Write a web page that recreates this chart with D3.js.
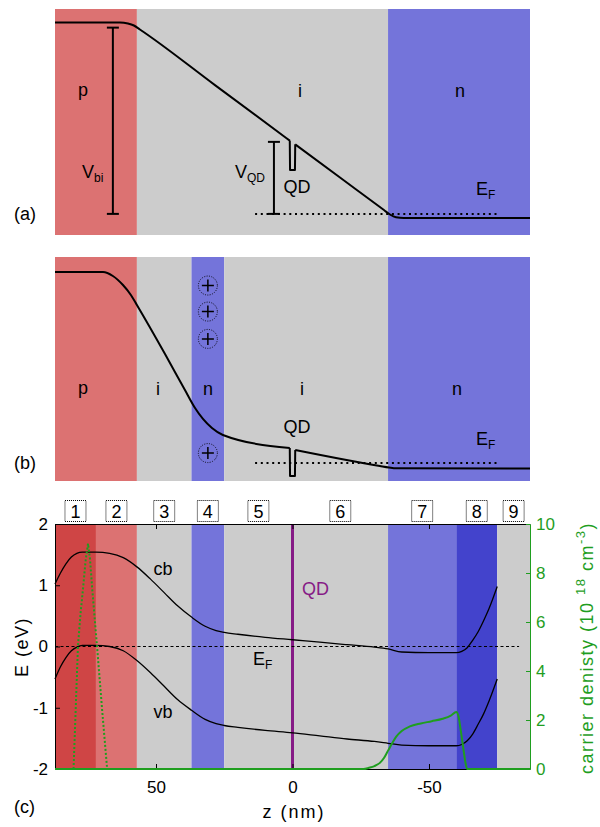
<!DOCTYPE html>
<meta charset="utf-8">
<style>
body { margin: 0; background: #fff; }
svg { display: block; font-family: "Liberation Sans", Arial, sans-serif; }
.band { fill: none; stroke: #000; stroke-width: 2px; stroke-linejoin: round; }
.curve { fill: none; stroke: #000; stroke-width: 1.3px; }
.ef { fill: none; stroke: #000; stroke-width: 2px; stroke-dasharray: 2 3.7; }
.bar { stroke: #000; stroke-width: 2px; }
.dens { fill: none; stroke: #1f9e1f; stroke-width: 2px; }
.dens.holes { stroke-dasharray: 2 2; }
</style>
<body>
<script src="https://cdn.jsdelivr.net/npm/d3@7"></script>
<script>
// layer stacks, z in nm (plotted right to left)
var layersA = ["p", "i", "n"];
var edgesA = [87, 57, -35, -87];
var layersB = ["p", "i", "n", "i", "n"];
var edgesB = [87, 57, 37, 25, -35, -87];
var regionsC = ["1", "2", "3", "4", "5", "6", "7", "8", "9"];
var regionTypeC = ["p+", "p", "i", "n", "i", "i", "n", "n+", "i"];
var edgesC = [87, 72, 57, 37, 25, 0, -35, -60, -75, -87];

// schematic conduction band for (a) and (b): [z, E]
var bandA = [[87, 1.541], [63.2, 1.541], [60.3, 1.533], [58.1, 1.517], [55.9, 1.485], [28.4, 1.037],
  [1.0, 0.59], [0.9, 0.354], [-0.9, 0.354], [-1.0, 0.56], [-17.4, 0.293], [-33.5, 0.031],
  [-35.7, -0.005], [-37.9, -0.027], [-40.8, -0.033], [-87, -0.033]];
var bandB = [[87, 1.539], [69.4, 1.539], [65.8, 1.507], [62.1, 1.434], [59.2, 1.354], [57.0, 1.273],
  [46.7, 0.878], [39.4, 0.588], [35.7, 0.443], [32.8, 0.355], [29.5, 0.282], [25.5, 0.226],
  [1.0, 0.121], [0.9, -0.105], [-0.9, -0.105], [-1.0, 0.105], [-32, -0.024], [-35.3, -0.036],
  [-37.9, -0.043], [-87, -0.044]];
var vbi = 1.5, vqd = 0.58;
var chargeE = [1.43, 1.22, 1.0, 0.08];

// (c) simulated bands
var zC = [87, 85, 83, 81, 79, 77, 72, 67, 62, 57, 52, 47, 42, 37, 32, 28, 25, 20, 10, 0,
  -10, -20, -30, -35, -40, -50, -60, -62, -64, -66, -68, -70, -72, -75];
var cb = [1.02, 1.2, 1.35, 1.46, 1.52, 1.54, 1.54, 1.52, 1.45, 1.3, 1.1, 0.88, 0.66, 0.48, 0.33, 0.26, 0.23, 0.2, 0.15, 0.11,
  0.07, 0.03, -0.01, -0.04, -0.09, -0.1, -0.1, -0.08, -0.02, 0.1, 0.24, 0.42, 0.62, 0.98];
var vb = [-0.53, -0.33, -0.18, -0.07, -0.01, 0.02, 0.02, 0.0, -0.07, -0.23, -0.43, -0.65, -0.87, -1.04, -1.19, -1.26, -1.29, -1.32, -1.37, -1.41,
  -1.46, -1.51, -1.55, -1.58, -1.61, -1.62, -1.62, -1.6, -1.54, -1.43, -1.27, -1.1, -0.89, -0.53];

// carrier densities (1e18 cm^-3)
var zHole = [80.2, 79.4, 78.6, 77.6, 76.7, 75.8, 74.9, 74.2, 73.4, 72.5, 71.6, 69.8, 67.9];
var holes = [0, 2.5, 5.0, 6.4, 7.4, 8.5, 9.2, 8.6, 7.4, 6.2, 5.0, 2.5, 0];
var zElec = [87, -26, -28, -30, -32, -33.5, -35, -36.5, -38, -40, -43, -47, -51, -55, -58, -60,
  -60.8, -61.6, -62.5, -63.3, -64, -87];
var electrons = [0, 0, 0.05, 0.12, 0.25, 0.45, 0.75, 1.05, 1.32, 1.55, 1.74, 1.86, 1.95, 2.05, 2.18, 2.33,
  2.15, 1.6, 0.9, 0.3, 0, 0];

var eTicks = [-2, -1, 0, 1, 2];
var zTicks = [50, 0, -50];
var nTicks = [0, 2, 4, 6, 8, 10];

var W = 600, H = 827;
var fillOf = {"p+": "#cf4545", "p": "#dc7272", "i": "#cccccc", "n": "#7474da", "n+": "#4343cc"};
var green = "#1f9e1f", purple = "#861b86";

var x = d3.scaleLinear().domain([87, -87]).range([55, 530]);
var yA = d3.scaleLinear().domain([-0.17, 1.65]).range([235, 9]);
var yB = d3.scaleLinear().domain([-0.137, 1.66]).range([480, 257]);
var yC = d3.scaleLinear().domain([-2, 2]).range([769, 524]);
var yN = d3.scaleLinear().domain([0, 10]).range([769, 524]);

var svg = d3.select("body").append("svg").attr("width", W).attr("height", H);

function layers(g, edges, types, top, bottom) {
  g.selectAll("rect").data(types).join("rect")
    .attr("x", (d, i) => x(edges[i]))
    .attr("width", (d, i) => x(edges[i + 1]) - x(edges[i]))
    .attr("y", top).attr("height", bottom - top)
    .attr("fill", d => fillOf[d]);
}

// smooth outside the QD, straight walls for the dot itself
function drawBand(g, band, y) {
  var a = band.findIndex(d => d[0] === 1.0), b = band.findIndex(d => d[0] === -1.0);
  var smooth = d3.line().x(d => x(d[0])).y(d => y(d[1])).curve(d3.curveMonotoneX);
  var lin = d3.line().x(d => x(d[0])).y(d => y(d[1]));
  g.append("path").attr("class", "band")
    .attr("d", smooth(band.slice(0, a + 1)) + lin(band.slice(a, b + 1)) + smooth(band.slice(b)));
}

function txt(g, px, py, s, size, anchor) {
  return g.append("text").attr("x", px).attr("y", py).attr("font-size", size)
    .attr("text-anchor", anchor || "middle").text(s);
}

function subTxt(g, px, py, main, sub, size) {
  var t = g.append("text").attr("x", px).attr("y", py).attr("font-size", size);
  t.append("tspan").text(main);
  t.append("tspan").attr("dy", 4).attr("font-size", Math.round(size * 0.65)).text(sub);
  return t;
}

function errbar(g, z, y, e) {
  var px = x(z);
  g.append("line").attr("class", "bar").attr("x1", px).attr("x2", px).attr("y1", y(0)).attr("y2", y(e));
  [0, e].forEach(v => g.append("line").attr("class", "bar")
    .attr("x1", px - 6).attr("x2", px + 6).attr("y1", y(v)).attr("y2", y(v)));
}

// ---- (a)
var ga = svg.append("g");
layers(ga.append("g"), edgesA, layersA, 9, 235);
ga.append("path").attr("class", "ef").attr("d", d3.line()([[x(13.7), yA(0)], [x(-74.9), yA(0)]]));
drawBand(ga, bandA, yA);
errbar(ga, 65.8, yA, vbi);
errbar(ga, 6.8, yA, vqd);
txt(ga, 83, 96, "p", 18);
txt(ga, 300, 97, "i", 18);
txt(ga, 460, 97, "n", 18);
subTxt(ga, 82, 178, "V", "bi", 18);
subTxt(ga, 235, 178, "V", "QD", 18);
txt(ga, 297, 193, "QD", 18);
subTxt(ga, 476, 195, "E", "F", 18);
txt(ga, 14, 220, "(a)", 18, "start");

// ---- (b)
var gb = svg.append("g");
layers(gb.append("g"), edgesB, layersB, 257, 481);
gb.append("path").attr("class", "ef").attr("d", d3.line()([[x(13.7), yB(0)], [x(-74.9), yB(0)]]));
drawBand(gb, bandB, yB);
var ch = gb.selectAll("g.charge").data(chargeE).join("g").attr("class", "charge")
  .attr("transform", d => "translate(" + x(31) + "," + yB(d) + ")");
ch.append("circle").attr("r", 9.5).attr("fill", "none").attr("stroke", "#000")
  .attr("stroke-width", 0.9).attr("stroke-dasharray", "1 1.4");
ch.append("path").attr("d", "M-6,0H6M0,-6V6").attr("stroke", "#000").attr("stroke-width", 1.5);
txt(gb, 83, 394, "p", 18);
txt(gb, 158, 395, "i", 18);
txt(gb, 208, 395, "n", 18);
txt(gb, 302, 395, "i", 18);
txt(gb, 457, 395, "n", 18);
txt(gb, 297, 433, "QD", 18);
subTxt(gb, 476, 445, "E", "F", 18);
txt(gb, 14, 469, "(b)", 18, "start");

// ---- (c)
var gc = svg.append("g");
layers(gc.append("g"), edgesC, regionTypeC, 524, 769);

var mids = regionsC.map((d, i) => (edgesC[i] + edgesC[i + 1]) / 2);
var box = gc.selectAll("g.num").data(regionsC).join("g").attr("class", "num")
  .attr("transform", (d, i) => "translate(" + x(mids[i]) + ",511)");
box.append("rect").attr("x", -10.5).attr("y", -10.5).attr("width", 21).attr("height", 21)
  .attr("fill", "none").attr("stroke", "#000").attr("stroke-width", 1).attr("stroke-dasharray", "1 1");
box.append("text").attr("y", 7).attr("text-anchor", "middle").attr("font-size", 18).text(d => d);

gc.append("line").attr("x1", x(0)).attr("x2", x(0)).attr("y1", 524).attr("y2", 769)
  .attr("stroke", purple).attr("stroke-width", 3);
gc.append("path").attr("d", d3.line()([[x(87), yC(0)], [x(-83), yC(0)]]))
  .attr("stroke", "#000").attr("stroke-width", 1.2).attr("stroke-dasharray", "3 2.5");

var lineC = d3.line().x((d, i) => x(zC[i])).y(d => yC(d)).curve(d3.curveMonotoneX);
gc.append("path").attr("class", "curve").attr("d", lineC(cb));
gc.append("path").attr("class", "curve").attr("d", lineC(vb));

function axisStyle(g, color) {
  g.attr("font-family", null).attr("font-size", 17);
  g.selectAll("path, line").attr("stroke", color);
  g.selectAll("text").attr("fill", color);
}
gc.append("g").attr("transform", "translate(55,0)")
  .call(d3.axisLeft(yC).tickValues(eTicks).tickSize(-5).tickSizeOuter(0).tickPadding(7).tickFormat(String))
  .call(axisStyle, "#000");
gc.append("g").attr("transform", "translate(0,524)")
  .call(d3.axisTop(x).tickValues(zTicks).tickSize(-5).tickSizeOuter(0).tickFormat(""))
  .call(axisStyle, "#000");
gc.append("g").attr("transform", "translate(0,769)")
  .call(d3.axisBottom(x).tickValues(zTicks).tickSize(-5).tickSizeOuter(0).tickPadding(12).tickFormat(String))
  .call(axisStyle, "#000");
gc.append("g").attr("transform", "translate(530,0)")
  .call(d3.axisRight(yN).tickValues(nTicks).tickSize(-4).tickSizeOuter(0).tickPadding(6).tickFormat(String))
  .call(axisStyle, green);

gc.append("path").attr("class", "dens holes")
  .attr("d", d3.line().x((d, i) => x(zHole[i])).y(d => yN(d))(holes));
gc.append("path").attr("class", "dens")
  .attr("d", d3.line().x((d, i) => x(zElec[i])).y(d => yN(d)).curve(d3.curveMonotoneX)(electrons));

txt(gc, 163, 575, "cb", 18);
txt(gc, 163, 718, "vb", 18);
subTxt(gc, 253, 665, "E", "F", 18);
txt(gc, 302, 595, "QD", 18, "start").attr("fill", purple);
txt(gc, 14, 813, "(c)", 18, "start");
txt(gc, 294, 818, "z (nm)", 18).attr("letter-spacing", 2);
txt(gc, 0, 0, "E (eV)", 18).attr("letter-spacing", 1.5)
  .attr("transform", "translate(28,647) rotate(-90)");

var rt = gc.append("text").attr("transform", "translate(593,648) rotate(-90)")
  .attr("text-anchor", "middle").attr("font-size", 18).attr("fill", green).attr("letter-spacing", 1.5);
rt.append("tspan").text("carrier denisty (10 ");
rt.append("tspan").attr("dy", -8).attr("font-size", 13).text("18");
rt.append("tspan").attr("dy", 8).text(" cm");
rt.append("tspan").attr("dy", -8).attr("font-size", 13).text("-3");
rt.append("tspan").attr("dy", 8).text(")");
</script>
